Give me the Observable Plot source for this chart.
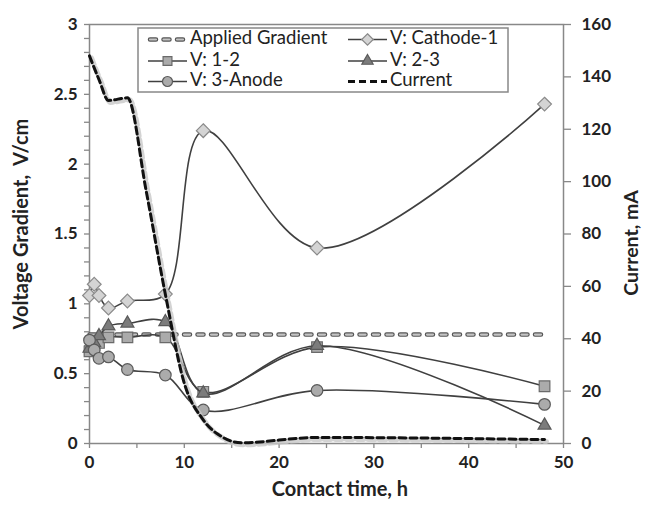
<!DOCTYPE html>
<html>
<head>
<meta charset="utf-8">
<script src="https://cdn.jsdelivr.net/npm/d3@7"></script>
<script src="https://cdn.jsdelivr.net/npm/@observablehq/plot@0.6"></script>
<style>
  html, body { margin: 0; padding: 0; background: #fff; }
  #chart { width: 646px; height: 506px; }
</style>
</head>
<body>
<div id="chart"></div>
<script>
// ---- data ----
const hours       = [0, 0.5, 1, 2, 4, 8, 12, 24, 48];
const vApplied    = [0.78, 0.78, 0.78, 0.78, 0.78, 0.78, 0.78, 0.78, 0.78];
const vCathode1   = [1.06, 1.14, 1.06, 0.97, 1.02, 1.07, 2.24, 1.40, 2.43];
const v12         = [0.66, 0.70, 0.72, 0.76, 0.76, 0.76, 0.37, 0.69, 0.41];
const v23         = [0.68, 0.72, 0.77, 0.84, 0.86, 0.87, 0.36, 0.70, 0.13];
const v3Anode     = [0.74, 0.67, 0.61, 0.62, 0.53, 0.49, 0.24, 0.38, 0.28];
const currentHours = [0, 1, 2, 4, 6, 8, 10, 12, 14, 16, 24, 48];
const currentMA    = [148, 139, 131, 132, 96, 57, 23, 9, 2.5, 0.3, 2.3, 1.5];

const xTicks = [0, 10, 20, 30, 40, 50];
const xMinorTicks = [0, 5, 10, 15, 20, 25, 30, 35, 40, 45, 50];
const yTicks = [0, 0.5, 1, 1.5, 2, 2.5, 3];
const yMinorTicks = [0,0.1,0.2,0.3,0.4,0.5,0.6,0.7,0.8,0.9,1,1.1,1.2,1.3,1.4,1.5,1.6,1.7,1.8,1.9,2,2.1,2.2,2.3,2.4,2.5,2.6,2.7,2.8,2.9,3];
const currentTicks = [0, 20, 40, 60, 80, 100, 120, 140, 160];
const vMax = 3, currentMax = 160;

const seriesNames = ["Applied Gradient", "V: Cathode-1", "V: 1-2", "V: 2-3", "V: 3-Anode", "Current"];

// ---- tables ----
const toRows = (vals) => hours.map((h, i) => ({h, v: vals[i]}));
const applied = toRows(vApplied);
const cathode = toRows(vCathode1);
const s12 = toRows(v12);
const s23 = toRows(v23);
const anode = toRows(v3Anode);
const current = currentHours.map((h, i) => ({h, v: currentMA[i] * vMax / currentMax}));

const lineCol = "#404040";
const lw = 1.6;
const font = "Lato, 'Open Sans', sans-serif";

const plot = Plot.plot({
  width: 646,
  height: 506,
  marginTop: 24,
  marginBottom: 63,
  marginLeft: 89,
  marginRight: 83,
  x: {domain: [0, 50], label: null},
  y: {domain: [0, 3], label: null},
  style: {fontFamily: font, fontSize: "16px", color: "#222", background: "#fff"},
  marks: [
    // axes
    Plot.axisX(xMinorTicks, {tickSize: 5, stroke: "#888", strokeWidth: 1.3, text: null, label: null}),
    Plot.axisX(xTicks, {tickSize: 0, tickPadding: 12, fontWeight: "bold", fontSize: 17, fill: "#222", label: null}),
    Plot.axisY(yMinorTicks, {tickSize: 5, stroke: "#888", strokeWidth: 1.3, text: null, label: null}),
    Plot.axisY(yTicks, {tickSize: 0, tickPadding: 12, fontWeight: "bold", fontSize: 17, fill: "#222", label: null, tickFormat: d => String(d)}),
    Plot.axisY(currentTicks.map(m => m * vMax / currentMax), {anchor: "right", tickSize: 7, stroke: "#888", strokeWidth: 1.3, tickPadding: 11, fontWeight: "bold", fontSize: 17, fill: "#222", label: null,
      tickFormat: d => String(Math.round(d * currentMax / vMax))}),
    Plot.frame({stroke: "#888", strokeWidth: 1.5}),

    // Applied gradient
    Plot.line(applied, {x: "h", y: "v", stroke: "#555", strokeWidth: 4.5, strokeDasharray: "6,7.5", strokeLinecap: "round"}),
    Plot.line(applied, {x: "h", y: "v", stroke: "#c4c4c4", strokeWidth: 2.2, strokeDasharray: "6,7.5", strokeLinecap: "round"}),

    // Cathode-1
    Plot.line(cathode, {x: "h", y: "v", stroke: lineCol, strokeWidth: lw, curve: "catmull-rom"}),
    Plot.dot(cathode, {x: "h", y: "v", symbol: "diamond2", r: 6.2, fill: "#d4d4d4", stroke: "#8a8a8a", strokeWidth: 1.2}),

    // 1-2
    Plot.line(s12, {x: "h", y: "v", stroke: lineCol, strokeWidth: lw, curve: "catmull-rom"}),
    Plot.dot(s12, {x: "h", y: "v", symbol: "square", r: 6, fill: "#ababab", stroke: "#6a6a6a", strokeWidth: 1.2}),

    // 2-3
    Plot.line(s23, {x: "h", y: "v", stroke: lineCol, strokeWidth: lw, curve: "catmull-rom"}),
    Plot.dot(s23, {x: "h", y: "v", symbol: "triangle", r: 4.8, fill: "#7c7c7c", stroke: "#5a5a5a", strokeWidth: 1.2}),

    // 3-Anode
    Plot.line(anode, {x: "h", y: "v", stroke: lineCol, strokeWidth: lw, curve: "catmull-rom"}),
    Plot.dot(anode, {x: "h", y: "v", symbol: "circle", r: 5.8, fill: "#ababab", stroke: "#5a5a5a", strokeWidth: 1.2}),

    // Current (secondary axis)
    Plot.line(current, {x: "h", y: "v", stroke: "#c8c8c8", strokeWidth: 5, strokeDasharray: "7,4", dx: 2, dy: 2, curve: "monotone-x", strokeOpacity: 0.8}),
    Plot.line(current, {x: "h", y: "v", stroke: "#111", strokeWidth: 3, strokeDasharray: "7,4", curve: "monotone-x"})
  ]
});

document.getElementById("chart").appendChild(plot);

// ---- axis titles & legend ----
const svg = d3.select(plot);

svg.append("text")
  .attr("transform", "translate(23,224) rotate(-90)")
  .attr("text-anchor", "middle").attr("dominant-baseline", "middle")
  .attr("font-family", font).attr("font-size", 20).attr("font-weight", "bold").attr("fill", "#222")
  .attr("xml:space", "preserve")
  .text("Voltage Gradient,  V/cm");

svg.append("text")
  .attr("transform", "translate(633,243) rotate(-90)")
  .attr("text-anchor", "middle").attr("dominant-baseline", "middle")
  .attr("font-family", font).attr("font-size", 19.5).attr("font-weight", "bold").attr("fill", "#222")
  .text("Current, mA");

svg.append("text")
  .attr("x", 340).attr("y", 491)
  .attr("text-anchor", "middle").attr("dominant-baseline", "middle")
  .attr("font-family", font).attr("font-size", 20).attr("font-weight", "bold").attr("fill", "#222")
  .text("Contact time, h");

const lg = svg.append("g");
lg.append("rect").attr("x", 138).attr("y", 28).attr("width", 370).attr("height", 64)
  .attr("fill", "#fff").attr("stroke", "#888").attr("stroke-width", 1.5);

const items = [
  {name: seriesNames[0], col: 0, row: 0, kind: "applied"},
  {name: seriesNames[1], col: 1, row: 0, kind: "sym", sym: d3.symbolDiamond2, size: Math.PI * 5.2 * 5.2, fill: "#d4d4d4", stroke: "#8a8a8a"},
  {name: seriesNames[2], col: 0, row: 1, kind: "sym", sym: d3.symbolSquare, size: Math.PI * 5 * 5, fill: "#ababab", stroke: "#6a6a6a"},
  {name: seriesNames[3], col: 1, row: 1, kind: "sym", sym: d3.symbolTriangle, size: Math.PI * 4.2 * 4.2, fill: "#7c7c7c", stroke: "#5a5a5a"},
  {name: seriesNames[4], col: 0, row: 2, kind: "sym", sym: d3.symbolCircle, size: Math.PI * 5 * 5, fill: "#ababab", stroke: "#5a5a5a"},
  {name: seriesNames[5], col: 1, row: 2, kind: "current"}
];
const colX = [148, 348];
const rowY = [39.5, 61, 81.5];
const symW = 39;
items.forEach(it => {
  const x0 = colX[it.col], y = rowY[it.row], x1 = x0 + symW;
  const g = lg.append("g");
  if (it.kind === "applied") {
    g.append("line").attr("x1", x0 + 2).attr("x2", x1).attr("y1", y).attr("y2", y)
      .attr("stroke", "#555").attr("stroke-width", 4.5).attr("stroke-dasharray", "6,7.5").attr("stroke-linecap", "round");
    g.append("line").attr("x1", x0 + 2).attr("x2", x1).attr("y1", y).attr("y2", y)
      .attr("stroke", "#c4c4c4").attr("stroke-width", 2.2).attr("stroke-dasharray", "6,7.5").attr("stroke-linecap", "round");
  } else if (it.kind === "current") {
    g.append("line").attr("x1", x0).attr("x2", x1).attr("y1", y).attr("y2", y)
      .attr("stroke", "#111").attr("stroke-width", 3).attr("stroke-dasharray", "7,4");
  } else {
    g.append("line").attr("x1", x0).attr("x2", x1).attr("y1", y).attr("y2", y)
      .attr("stroke", lineCol).attr("stroke-width", lw);
    g.append("path").attr("d", d3.symbol(it.sym, it.size)())
      .attr("transform", `translate(${(x0 + x1) / 2},${y})`)
      .attr("fill", it.fill).attr("stroke", it.stroke).attr("stroke-width", 1.2);
  }
  g.append("text").attr("x", x1 + 3).attr("y", y)
    .attr("text-anchor", "start")
    .attr("dominant-baseline", "middle")
    .attr("font-family", font).attr("font-size", 18.5).attr("fill", "#222")
    .text(it.name);
});
</script>
</body>
</html>
